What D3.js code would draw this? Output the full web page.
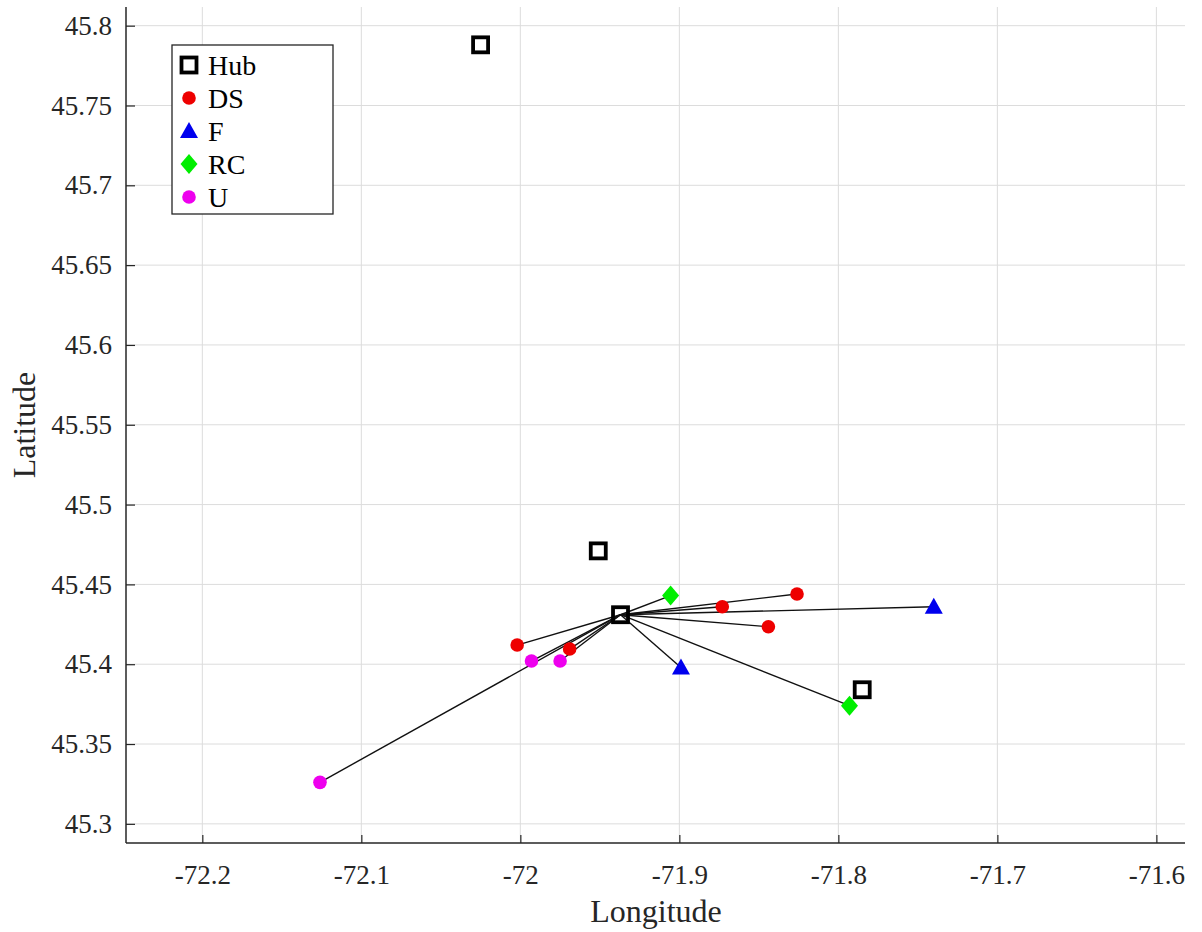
<!DOCTYPE html>
<html>
<head>
<meta charset="utf-8">
<script src="https://cdn.jsdelivr.net/npm/d3@7"></script>
<style>
  body { margin: 0; background: #fff; }
  svg { display: block; }
  svg text { font-family: "Liberation Serif", "Times New Roman", serif; }
</style>
</head>
<body>
<svg id="chart" width="1202" height="932"></svg>
<script>
// data (longitude, latitude)
const hubs = [[-72.025, 45.788], [-71.951, 45.471], [-71.937, 45.431], [-71.785, 45.384]];
const ds = [[-72.002, 45.412], [-71.969, 45.4095], [-71.873, 45.436], [-71.844, 45.4235], [-71.826, 45.444]];
const f = [[-71.899, 45.398], [-71.740, 45.436]];
const rc = [[-71.9055, 45.443], [-71.793, 45.374]];
const u = [[-71.993, 45.402], [-71.975, 45.402], [-72.126, 45.326]];
const centerHub = 2; // hub that all links start from
const xTicks = [-72.2, -72.1, -72, -71.9, -71.8, -71.7, -71.6];
const yTicks = [45.3, 45.35, 45.4, 45.45, 45.5, 45.55, 45.6, 45.65, 45.7, 45.75, 45.8];
const legendNames = ['Hub', 'DS', 'F', 'RC', 'U'];

const pLeft = 126, pRight = 1185, pTop = 7, pBottom = 843;
const serif = '"Liberation Serif", "Times New Roman", serif';

let svg = d3.select('#chart');

let x = d3.scaleLinear().domain([-72.248, -71.582]).range([pLeft, pRight]);
let y = d3.scaleLinear().domain([45.288, 45.8117]).range([pBottom, pTop]);

// grid
let grid = svg.append('g').attr('stroke', '#dcdcdc').attr('stroke-width', 1);
grid.selectAll('.vg').data(xTicks).enter().append('line')
    .attr('x1', d => x(d)).attr('x2', d => x(d))
    .attr('y1', pTop).attr('y2', pBottom);
grid.selectAll('.hg').data(yTicks).enter().append('line')
    .attr('x1', pLeft).attr('x2', pRight)
    .attr('y1', d => y(d)).attr('y2', d => y(d));

// axes (ticks point inward like matlab)
let xAxis = d3.axisBottom(x).tickValues(xTicks).tickSize(-8).tickPadding(22)
    .tickFormat(d => String(+d.toFixed(2)));
let yAxis = d3.axisLeft(y).tickValues(yTicks).tickSize(-9).tickPadding(14)
    .tickFormat(d => String(+d.toFixed(2)));

let gx = svg.append('g').attr('transform', `translate(0,${pBottom})`).call(xAxis);
let gy = svg.append('g').attr('transform', `translate(${pLeft},0)`).call(yAxis);
[gx, gy].forEach(g => {
    g.attr('font-family', serif).attr('font-size', 27);
    g.select('.domain').attr('stroke', '#262626').attr('stroke-width', 1.5);
    g.selectAll('.tick line').attr('stroke', '#262626').attr('stroke-width', 1.2);
    g.selectAll('.tick text').attr('fill', '#262626');
});
gx.select('.domain').attr('d', `M${pLeft},0H${pRight}`);
gy.select('.domain').attr('d', `M0,${pTop}V${pBottom}`);
gx.selectAll('.tick text').attr('dy', '0.71em');

// axis labels
svg.append('text').attr('x', 656).attr('y', 922).attr('text-anchor', 'middle')
    .attr('fill', '#262626').attr('font-size', 32).text('Longitude');
svg.append('text').attr('transform', 'translate(35,425) rotate(-90)').attr('text-anchor', 'middle')
    .attr('fill', '#262626').attr('font-size', 32).text('Latitude');

// links from central hub
let hub0 = hubs[centerHub];
let targets = [...ds, ...f, ...rc, ...u];
svg.append('g').selectAll('line').data(targets).enter().append('line')
    .attr('x1', x(hub0[0])).attr('y1', y(hub0[1]))
    .attr('x2', d => x(d[0])).attr('y2', d => y(d[1]))
    .attr('stroke', '#111').attr('stroke-width', 1.4);

// marker drawers
let drawSquare = (g, px, py) => g.append('rect')
    .attr('x', px - 7.5).attr('y', py - 7.5).attr('width', 15).attr('height', 15)
    .attr('fill', 'none').attr('stroke', '#000').attr('stroke-width', 3.8);
let drawCircle = (g, px, py, c) => g.append('circle')
    .attr('cx', px).attr('cy', py).attr('r', 6.8).attr('fill', c);
let drawTri = (g, px, py, c) => g.append('path')
    .attr('d', `M${px},${py - 9}L${px + 9},${py + 7}L${px - 9},${py + 7}Z`).attr('fill', c);
let drawDiamond = (g, px, py, c) => g.append('path')
    .attr('d', `M${px},${py - 10}L${px + 8.5},${py}L${px},${py + 10}L${px - 8.5},${py}Z`).attr('fill', c);

let marks = svg.append('g');
ds.forEach(d => drawCircle(marks, x(d[0]), y(d[1]), '#ee0000'));
f.forEach(d => drawTri(marks, x(d[0]), y(d[1]), '#0000ee'));
rc.forEach(d => drawDiamond(marks, x(d[0]), y(d[1]), '#00ee00'));
u.forEach(d => drawCircle(marks, x(d[0]), y(d[1]), '#ee00ee'));
hubs.forEach(d => drawSquare(marks, x(d[0]), y(d[1])));

// legend
let lg = svg.append('g');
lg.append('rect').attr('x', 172).attr('y', 45).attr('width', 161).attr('height', 169)
    .attr('fill', '#fff').attr('stroke', '#262626').attr('stroke-width', 1.3);
let legendColors = ['#000', '#ee0000', '#0000ee', '#00ee00', '#ee00ee'];
let legendDraw = [drawSquare, drawCircle, drawTri, drawDiamond, drawCircle];
legendNames.forEach((name, i) => {
    let ly = 65 + i * 33;
    legendDraw[i](lg, 189, ly, legendColors[i]);
    lg.append('text').attr('x', 208).attr('y', ly).attr('dy', '0.35em')
        .attr('fill', '#000').attr('font-size', 28).text(name);
});
</script>
</body>
</html>
